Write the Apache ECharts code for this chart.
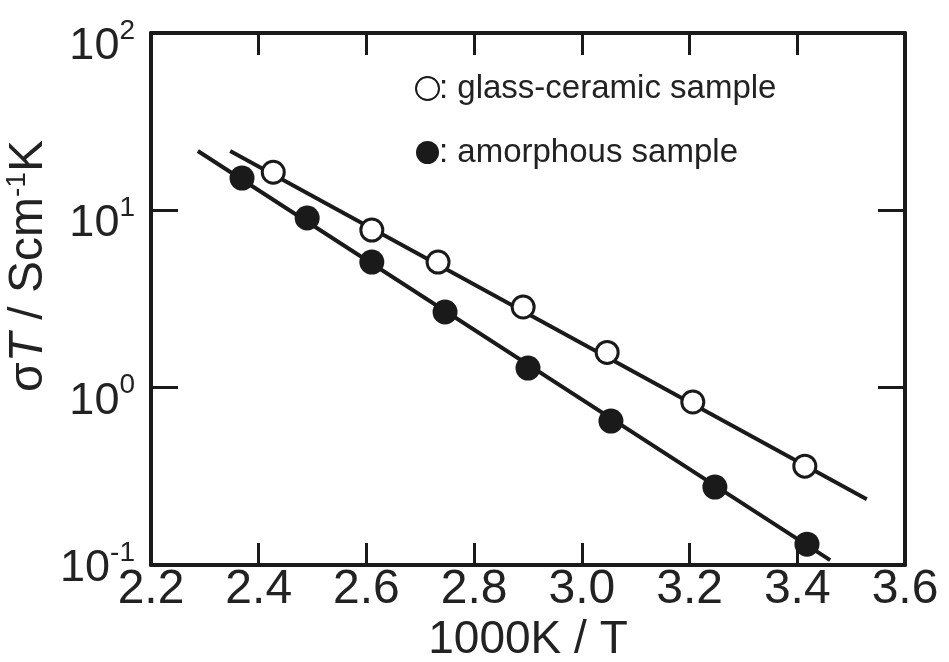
<!DOCTYPE html>
<html>
<head>
<meta charset="utf-8">
<script src="https://cdn.jsdelivr.net/npm/echarts@6/dist/echarts.min.js"></script>
<style>
  html, body { margin: 0; padding: 0; background: #fff; }
  #chart { width: 949px; height: 662px; }
</style>
</head>
<body>
<div id="chart"></div>
<script>
// ---- data ----
const glassX = [2.427, 2.610, 2.733, 2.891, 3.047, 3.206, 3.414];
const glassY = [16.4, 7.74, 5.11, 2.85, 1.58, 0.83, 0.361];
const amorphX = [2.369, 2.490, 2.610, 2.746, 2.900, 3.054, 3.247, 3.418];
const amorphY = [15.2, 9.05, 5.11, 2.67, 1.29, 0.648, 0.275, 0.131];
// fitted lines (end points)
const glassFitX = [2.347, 3.529];
const glassFitY = [21.6, 0.235];
const amorphFitX = [2.287, 3.461];
const amorphFitY = [21.6, 0.1066];
const xTicks = ['2.2', '2.4', '2.6', '2.8', '3.0', '3.2', '3.4', '3.6'];
const yTicks = [0.1, 1, 10, 100];
const seriesNames = [': glass-ceramic sample', ': amorphous sample'];

const zip = (xs, ys) => xs.map((x, i) => [x, ys[i]]);
const FONT = "'Liberation Sans', Arial, Helvetica, sans-serif";
const INK = '#1a1a1a';

const chart = echarts.init(document.getElementById('chart'), null, { renderer: 'canvas' });

const xCommon = {
  type: 'value', min: 2.2, max: 3.6, interval: 0.2,
  axisLine: { show: true, onZero: false, lineStyle: { color: INK, width: 4 } },
  axisTick: { show: true, inside: true, length: 22, lineStyle: { color: INK, width: 3 } },
  splitLine: { show: false }
};
const yCommon = {
  type: 'log', logBase: 10, min: 0.1, max: 100, interval: 1,
  axisLine: { show: true, onZero: false, lineStyle: { color: INK, width: 4 } },
  axisTick: { show: true, inside: true, length: 27, lineStyle: { color: INK, width: 3 } },
  splitLine: { show: false },
  minorTick: { show: false }
};

const option = {
  animation: false,
  backgroundColor: '#ffffff',
  grid: { left: 151, right: 44, top: 33, bottom: 97, containLabel: false, outerBoundsMode: 'none' },
  legend: {
    orient: 'vertical',
    left: 410, top: 67,
    itemWidth: 23, itemHeight: 23, itemGap: 31,
    data: seriesNames,
    textStyle: { fontFamily: FONT, fontSize: 33, color: '#222', padding: [0, 0, 0, -5] },
    selectedMode: false
  },
  xAxis: [
    Object.assign({}, xCommon, {
      position: 'bottom',
      name: '1000K / T', nameLocation: 'middle', nameGap: 52, nameMoveOverlap: false,
      nameTextStyle: { fontFamily: FONT, fontSize: 46, color: '#222' },
      axisLabel: {
        show: true, margin: 1, fontFamily: FONT, fontSize: 48, color: '#222',
        formatter: (v) => { const i = Math.round((v - 2.2) / 0.2); return xTicks[i] !== undefined ? xTicks[i] : ''; }
      }
    }),
    Object.assign({}, xCommon, { position: 'top', axisLabel: { show: false } })
  ],
  yAxis: [
    Object.assign({}, yCommon, {
      position: 'left',
      name: '{n|σ}{i|T}{n| / Scm}{s|-1}{n|K}',
      nameLocation: 'middle', nameRotate: 90, nameGap: 96, nameMoveOverlap: false,
      nameTextStyle: {
        fontFamily: FONT, color: '#222', padding: [0, 0, 0, 66],
        rich: {
          n: { fontFamily: FONT, fontSize: 48, color: '#222', lineHeight: 52 },
          i: { fontFamily: FONT, fontSize: 48, fontStyle: 'italic', color: '#222', lineHeight: 52 },
          s: { fontFamily: FONT, fontSize: 28, color: '#222', verticalAlign: 'top', lineHeight: 24 }
        }
      },
      axisLabel: {
        show: true, margin: 16,
        formatter: (v) => {
          const e = Math.round(Math.log10(v));
          if (!yTicks.some(t => Math.abs(Math.log10(t) - e) < 1e-6)) return '';
          const main = '{b|10}{s|' + e + '}';
          return e < 0 ? main : '{g| }\n' + main;
        },
        rich: {
          g: { fontSize: 10, lineHeight: 20 },
          b: { fontFamily: FONT, fontSize: 45, color: '#222', lineHeight: 52, verticalAlign: 'bottom' },
          s: { fontFamily: FONT, fontSize: 28, color: '#222', lineHeight: 14, verticalAlign: 'top' }
        }
      }
    }),
    Object.assign({}, yCommon, { position: 'right', axisLabel: { show: false } })
  ],
  series: [
    {
      type: 'line', name: 'glass fit', data: zip(glassFitX, glassFitY),
      showSymbol: false, symbol: 'none', z: 2, silent: true,
      lineStyle: { color: INK, width: 4 }
    },
    {
      type: 'line', name: 'amorphous fit', data: zip(amorphFitX, amorphFitY),
      showSymbol: false, symbol: 'none', z: 2, silent: true,
      lineStyle: { color: INK, width: 4 }
    },
    {
      type: 'scatter', name: seriesNames[0], data: zip(glassX, glassY),
      symbol: 'circle', symbolSize: 22, z: 5,
      itemStyle: { color: '#ffffff', borderColor: INK, borderWidth: 3, opacity: 1 }
    },
    {
      type: 'scatter', name: seriesNames[1], data: zip(amorphX, amorphY),
      symbol: 'circle', symbolSize: 25, z: 5,
      itemStyle: { color: INK, borderColor: INK, borderWidth: 0, opacity: 1 }
    }
  ]
};
chart.setOption(option);
</script>
</body>
</html>
